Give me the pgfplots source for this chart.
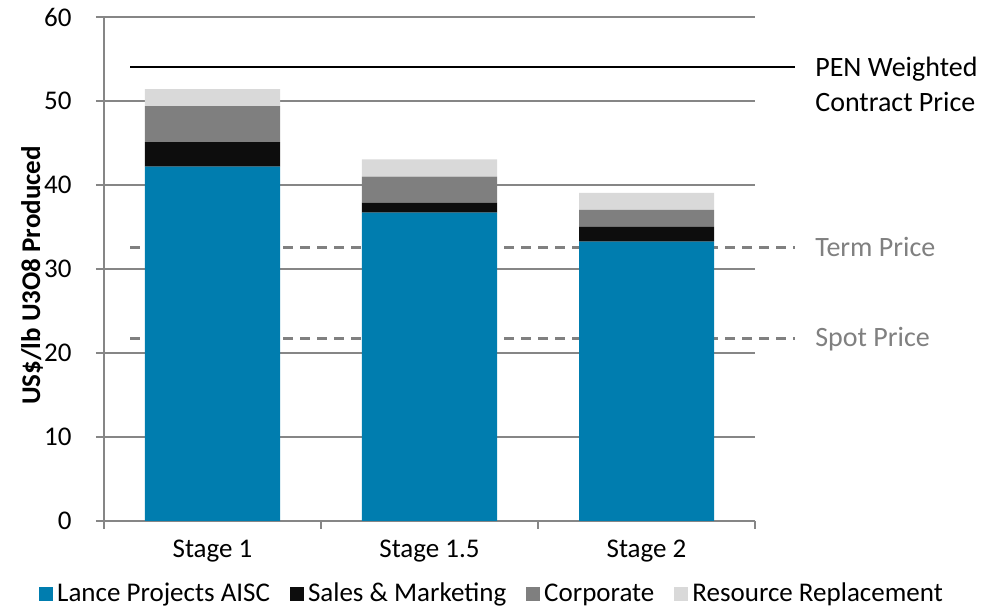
\documentclass[border=0pt]{standalone}
\usepackage{fontspec}
\setmainfont{Carlito}
\usepackage{pgfplots}
\pgfplotsset{compat=1.18}
\definecolor{cblue}{HTML}{007DAF}
\definecolor{cblack}{HTML}{0D0D0D}
\definecolor{cdark}{HTML}{7F7F7F}
\definecolor{clight}{HTML}{D9D9D9}
\definecolor{axgray}{HTML}{868686}
\definecolor{dashgray}{HTML}{808080}
\newcommand{\fs}{\fontsize{13.5}{17.5}\selectfont}
\begin{document}
\begin{tikzpicture}
\begin{axis}[
  scale only axis, width=325.5pt, height=252pt,
  xmin=-0.5, xmax=2.5, ymin=0, ymax=60,
  ybar stacked, bar width=67.5pt,
  clip=false,
  axis x line*=bottom, axis y line*=left,
  axis line style={axgray, line width=1pt},
  tick align=outside, major tick length=4pt,
  xtick={-0.5,0.5,1.5,2.5}, xticklabels={},
  x tick style={draw=axgray, line width=1pt},
  extra x ticks={0,1,2}, extra x tick labels={Stage 1, Stage 1.5, Stage 2},
  extra x tick style={grid=none, major tick length=0pt, tick style={draw=none}},
  ytick={0,10,20,30,40,50,60},
  y tick style={draw=axgray, line width=1pt},
  ymajorgrids, grid style={axgray, line width=1pt},
  tick label style={font=\fs},
  /pgf/number format/assume math mode=true,
  xticklabel style={anchor=north, inner sep=0pt, yshift=-9.3pt},
  yticklabel style={anchor=east, inner sep=0pt, xshift=-12pt},
  ylabel={\bfseries US\$/lb U3O8 Produced},
  ylabel style={font=\fs, at={(axis description cs:-0.1106,0.487)}, anchor=center, rotate=0},
  legend style={draw=none, fill=none, font=\fs, at={(0.5975,-0.1448)}, anchor=center,
    legend columns=4, /tikz/every even column/.append style={column sep=8pt}},
  legend cell align=left,
  legend image code/.code={\fill[#1] (0pt,-3.5pt) rectangle (7pt,3.5pt);},
]
\addplot[fill=cblue, draw=none] coordinates {(0,42.2) (1,36.7) (2,33.25)};
\addplot[fill=cblack, draw=none] coordinates {(0,2.9) (1,1.2) (2,1.75)};
\addplot[fill=cdark, draw=none] coordinates {(0,4.3) (1,3.1) (2,2.05)};
\addplot[fill=clight, draw=none] coordinates {(0,2.0) (1,2.05) (2,2.0)};
\legend{Lance Projects AISC, Sales \& Marketing, Corporate, Resource Replacement}
\addplot[forget plot, stack plots=false, sharp plot, black, line width=1pt] coordinates {(-0.38,54.05) (2.684,54.05)};
\addplot[forget plot, stack plots=false, sharp plot, dashgray, line width=1.5pt, dash pattern=on 5pt off 3.5pt] coordinates {(-0.38,32.6) (2.684,32.6)};
\addplot[forget plot, stack plots=false, sharp plot, dashgray, line width=1.5pt, dash pattern=on 5pt off 3.5pt] coordinates {(-0.38,21.7) (2.684,21.7)};
\node[anchor=west, align=left, inner sep=0pt, font=\fontsize{14}{17.5}\selectfont, xshift=10pt, yshift=-8.75pt] at (axis cs:2.684,54.05) {PEN Weighted\\Contract Price};
\node[anchor=west, inner sep=0pt, font=\fontsize{14}{17.5}\selectfont, xshift=10pt, text=dashgray] at (axis cs:2.684,32.6) {Term Price};
\node[anchor=west, inner sep=0pt, font=\fontsize{14}{17.5}\selectfont, xshift=10pt, text=dashgray] at (axis cs:2.684,21.7) {Spot Price};
\coordinate (o) at (rel axis cs:0,0);
\end{axis}
\pgfresetboundingbox
\path[use as bounding box] (o) ++(-52pt,-43.5pt) rectangle ++(495pt,304pt);
\end{tikzpicture}
\end{document}
